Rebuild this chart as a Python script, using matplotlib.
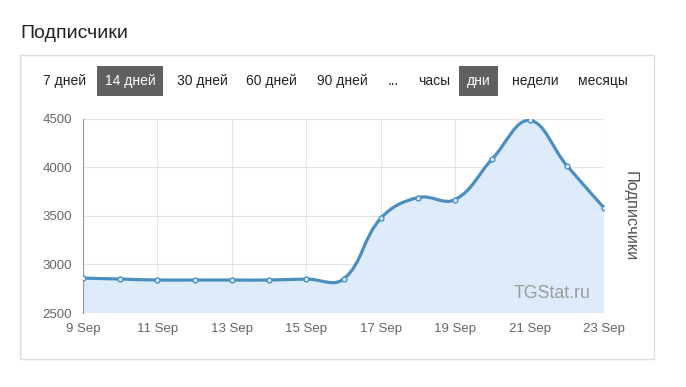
import numpy as np
import matplotlib.pyplot as plt
from matplotlib.path import Path
from matplotlib.patches import PathPatch, Rectangle

plt.rcParams['font.family'] = ['Liberation Sans', 'DejaVu Sans']

# data
days = list(range(9, 24))
subscribers = [2860, 2850, 2840, 2840, 2840, 2840, 2850, 2850,
               3475, 3690, 3670, 4090, 4485, 4020, 3585]
tick_days = [9, 11, 13, 15, 17, 19, 21, 23]
tick_labels = ['%d Sep' % d for d in tick_days]
yticks = [2500, 3000, 3500, 4000, 4500]
buttons = ['7 дней', '14 дней', '30 дней', '60 дней', '90 дней', '...',
           'часы', 'дни', 'недели', 'месяцы']
button_x = [43, 105, 177, 246, 317, 388, 418, 467, 512, 578]
active = ['14 дней', 'дни']

W, H = 686, 387
fig = plt.figure(figsize=(W / 100, H / 100), dpi=100)
fig.patch.set_facecolor('white')

# header and panel
fig.text(20 / W, 1 - 33 / H, 'Подписчики', fontsize=14, va='center',
         ha='left', color='#222222')
fig.patches.append(Rectangle((20 / W, 1 - 359 / H), 634 / W, 304 / H,
                             transform=fig.transFigure, fill=False,
                             edgecolor='#dddddd', lw=1))
for label, x in zip(buttons, button_x):
    if label in active:
        t = fig.text(x / W, 1 - 81 / H, label, fontsize=10, va='center',
                     ha='left', color='white')
        t.set_bbox(dict(facecolor='#606060', edgecolor='none',
                        boxstyle='square,pad=0.55'))
    else:
        fig.text(x / W, 1 - 81 / H, label, fontsize=10, va='center',
                 ha='left', color='#222222')

ax = fig.add_axes([83 / W, 1 - 313 / H, 521 / W, 194 / H])
ax.set_xlim(9, 23)
ax.set_ylim(2500, 4500)
ax.set_xticks(tick_days)
ax.set_xticklabels(tick_labels)
ax.set_yticks(yticks)
ax.tick_params(length=0, labelsize=9.5, labelcolor='#666666', pad=8)
ax.tick_params(axis='x', pad=7)
ax.grid(True, color='#e3e3e3', lw=0.8)
ax.set_axisbelow(True)
for side in ['top', 'right', 'bottom']:
    ax.spines[side].set_visible(False)
ax.spines['left'].set_color('#999999')
ax.spines['left'].set_linewidth(0.8)

ax.yaxis.set_label_position('right')
ax.set_ylabel('Подписчики', rotation=-90, fontsize=11.8, color='#555555',
              labelpad=24)

# smooth bezier like chart.js (tension 0.4), computed in pixel space
fig.canvas.draw()
pts = ax.transData.transform(np.column_stack([days, subscribers]))
n = len(pts)
cp_prev = pts.copy()
cp_next = pts.copy()
for i in range(1, n - 1):
    p0, p1, p2 = pts[i - 1], pts[i], pts[i + 1]
    d01 = np.hypot(*(p1 - p0))
    d12 = np.hypot(*(p2 - p1))
    s01 = d01 / (d01 + d12)
    s12 = d12 / (d01 + d12)
    cp_prev[i] = p1 - 0.4 * s01 * (p2 - p0)
    cp_next[i] = p1 + 0.4 * s12 * (p2 - p0)

inv = ax.transData.inverted()
verts = [pts[0]]
codes = [Path.MOVETO]
for i in range(n - 1):
    verts += [cp_next[i], cp_prev[i + 1], pts[i + 1]]
    codes += [Path.CURVE4] * 3
verts = inv.transform(np.array(verts))

line_path = Path(verts, codes)
fill_verts = np.vstack([verts, [[days[-1], 2500], [days[0], 2500], verts[0]]])
fill_codes = codes + [Path.LINETO, Path.LINETO, Path.CLOSEPOLY]
ax.add_patch(PathPatch(Path(fill_verts, fill_codes), facecolor='#deebfb',
                       edgecolor='none', zorder=2))
ax.add_patch(PathPatch(line_path, facecolor='none', edgecolor='#4b8fbf',
                       lw=2.3, zorder=3))
ax.plot(days, subscribers, 'o', ms=3.5, mfc='#deebfb', mec='#4b8fbf',
        mew=1, zorder=4)

ax.text(0.975, 0.1, 'TGStat.ru', transform=ax.transAxes, ha='right',
        va='center', fontsize=12.8, color='#9a9a9a', zorder=5)

fig.savefig('out.png', dpi=100, facecolor='white')
